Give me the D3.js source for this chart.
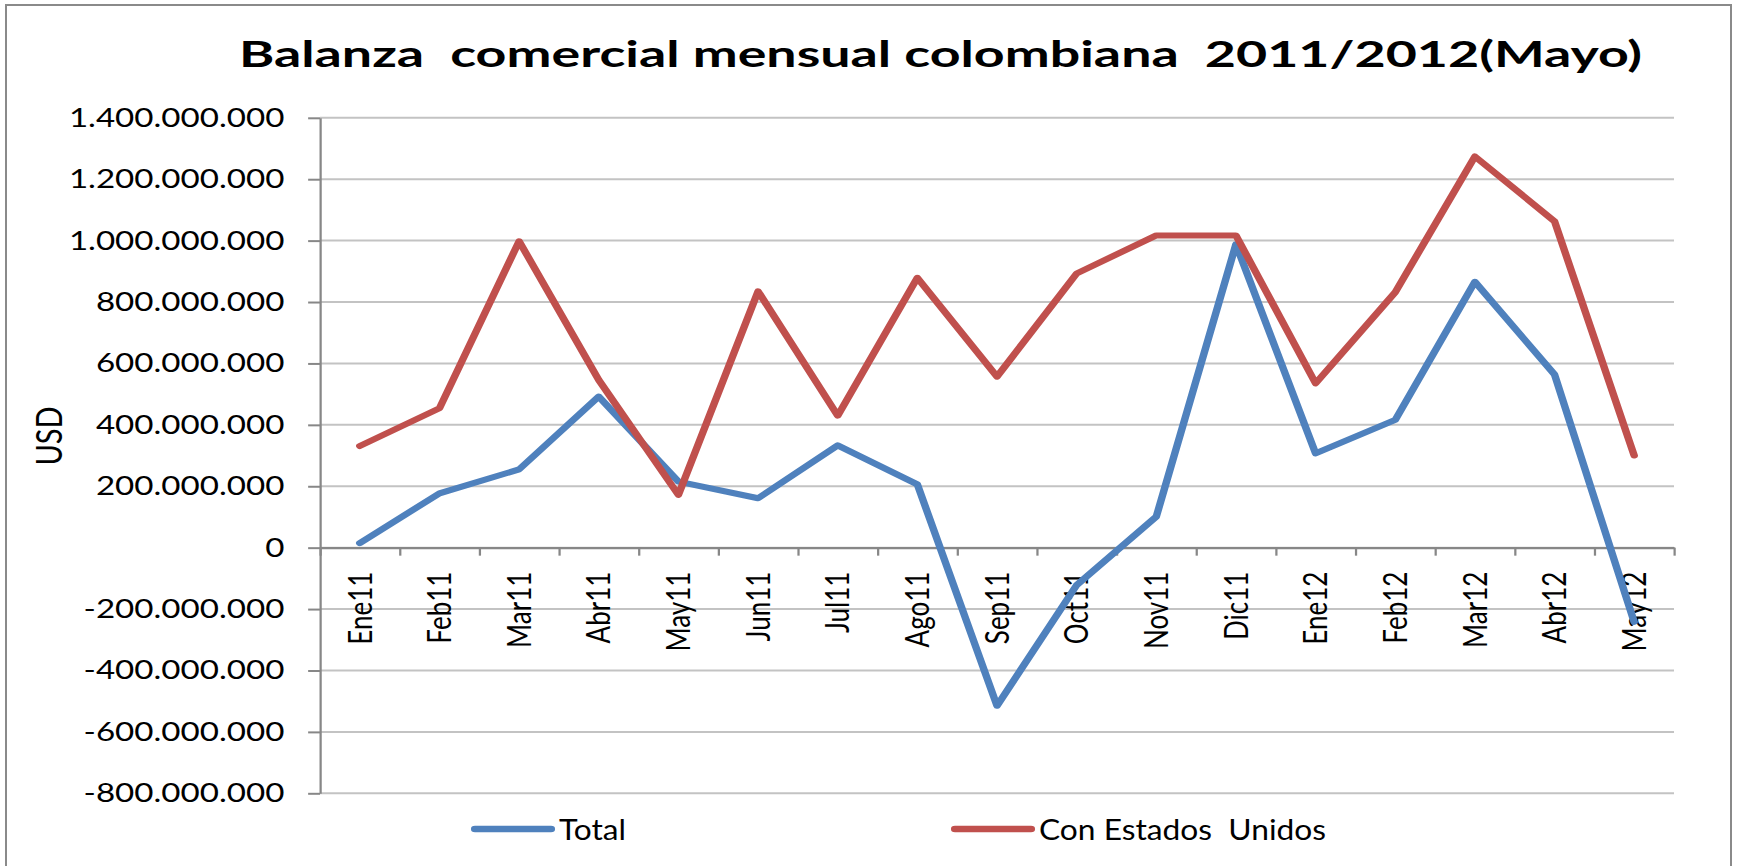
<!DOCTYPE html>
<html>
<head>
<meta charset="utf-8">
<script src="https://cdn.jsdelivr.net/npm/d3@7"></script>
<style>
  body { margin: 0; background: #fff; }
  text { font-family: Lato, "Open Sans", sans-serif; fill: #000; }
</style>
</head>
<body>
<svg id="chart" width="1742" height="866"></svg>
<script>
// meses
var months = ["Ene11","Feb11","Mar11","Abr11","May11","Jun11","Jul11","Ago11","Sep11",
              "Oct11","Nov11","Dic11","Ene12","Feb12","Mar12","Abr12","May12"]

// balanza total y con Estados Unidos (USD)
var total = [15e6, 177e6, 255e6, 492e6, 215e6, 161e6, 333e6, 206e6, -515e6,
             -122e6, 101e6, 988e6, 307e6, 416e6, 866e6, 564e6, -242e6]
var conEEUU = [331e6, 454e6, 998e6, 546e6, 172e6, 835e6, 430e6, 879e6, 557e6,
               893e6, 1017e6, 1017e6, 535e6, 832e6, 1274e6, 1063e6, 300e6]

var yTicks = [-800e6, -600e6, -400e6, -200e6, 0, 200e6, 400e6, 600e6, 800e6, 1000e6, 1200e6, 1400e6]
var seriesNames = ["Total", "Con Estados  Unidos"]
var colors = ["#4F81BD", "#C0504D"]
var title = "Balanza  comercial mensual colombiana  2011/2012(Mayo)"

// la imagen original está estirada horizontalmente
var SX = 1.25
var plotLeft = 320 / SX, plotRight = 1674 / SX
var plotTop = 117.8, plotBottom = 793.3

var svg = d3.select("#chart")

svg.append("rect")
  .attr("x", 6).attr("y", 5)
  .attr("width", 1725).attr("height", 900)
  .attr("fill", "#fff")
  .attr("stroke", "#8a8a8a")
  .attr("stroke-width", 2)

var g = svg.append("g").attr("transform", "scale(" + SX + ",1)")

var x = d3.scaleBand().domain(months).range([plotLeft, plotRight])
var y = d3.scaleLinear().domain([-800e6, 1400e6]).range([plotBottom, plotTop])

var loc = d3.formatLocale({ decimal: ",", thousands: ".", grouping: [3], currency: ["$", ""], minus: "-" })
var fmt = loc.format(",d")

// grid
g.append("g").selectAll("line")
  .data(yTicks)
  .enter().append("line")
  .attr("x1", plotLeft).attr("x2", plotRight)
  .attr("y1", function(d) { return y(d) }).attr("y2", function(d) { return y(d) })
  .attr("stroke", "#c3c3c3")
  .attr("stroke-width", 2)

// eje y
var yAxis = g.append("g")
  .attr("transform", "translate(" + plotLeft + ",0)")
  .call(d3.axisLeft(y).tickValues(yTicks).tickFormat(fmt).tickSize(9.5).tickSizeOuter(0).tickPadding(19))
yAxis.select(".domain").attr("stroke", "#878787").attr("stroke-width", 1.8)
yAxis.selectAll(".tick line").attr("stroke", "#878787").attr("stroke-width", 2)
yAxis.selectAll("text").style("font-size", "26.5px").attr("fill", "#000")

// eje x en cero
var xTickAxis = g.append("g")
  .attr("transform", "translate(0," + y(0) + ")")
  .call(d3.axisBottom(d3.scaleLinear().domain([0, months.length]).range([plotLeft, plotRight]))
    .ticks(months.length).tickFormat("").tickSize(8).tickSizeOuter(0))
xTickAxis.select(".domain").attr("stroke", "#878787").attr("stroke-width", 2.2)
xTickAxis.selectAll(".tick line").attr("stroke", "#878787").attr("stroke-width", 1.8)

var xAxis = g.append("g")
  .attr("transform", "translate(0," + y(0) + ")")
  .call(d3.axisBottom(x).tickSize(0).tickPadding(0))
xAxis.select(".domain").remove()
xAxis.selectAll("text")
  .style("font-size", "26px")
  .attr("fill", "#000")
  .attr("text-anchor", "end")
  .attr("transform", "rotate(-90)")
  .attr("x", -24)
  .attr("y", 0)
  .attr("dy", "0.36em")

// líneas
var line = d3.line()
  .x(function(d, i) { return x(months[i]) + x.bandwidth() / 2 })
  .y(function(d) { return y(d) })

;[total, conEEUU].forEach(function(s, k) {
  g.append("path")
    .datum(s)
    .attr("d", line)
    .attr("fill", "none")
    .attr("stroke", colors[k])
    .attr("stroke-width", 6)
    .attr("stroke-linejoin", "round")
    .attr("stroke-linecap", "round")
})

// título
g.append("text")
  .attr("x", 239 / SX)
  .attr("y", 67)
  .attr("textLength", 1403 / SX)
  .attr("lengthAdjust", "spacingAndGlyphs")
  .style("white-space", "pre")
  .style("font-size", "37px")
  .style("font-weight", "bold")
  .text(title)

// USD
g.append("text")
  .attr("transform", "translate(" + (48.5 / SX) + ",436) rotate(-90)")
  .attr("text-anchor", "middle")
  .attr("dy", "0.36em")
  .style("font-size", "29px")
  .text("USD")

// leyenda
var legX = [475, 955]
var legW = [67, 287]
seriesNames.forEach(function(name, k) {
  g.append("line")
    .attr("x1", legX[k] / SX).attr("x2", (legX[k] + 76) / SX)
    .attr("y1", 829).attr("y2", 829)
    .attr("stroke", colors[k])
    .attr("stroke-width", 6.5)
    .attr("stroke-linecap", "round")
  g.append("text")
    .attr("x", (legX[k] + 84) / SX)
    .attr("y", 840)
    .attr("textLength", legW[k] / SX)
    .attr("lengthAdjust", "spacingAndGlyphs")
    .style("white-space", "pre")
    .style("font-size", "28px")
    .text(name)
})
</script>
</body>
</html>
